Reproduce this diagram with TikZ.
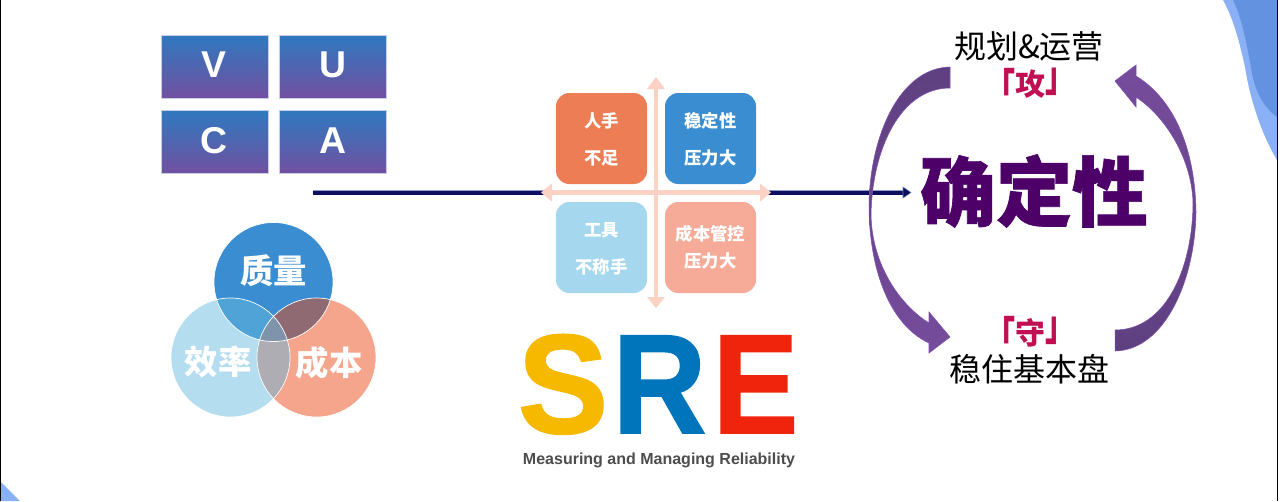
\documentclass[tikz,border=0pt]{standalone}
\usepackage{fontspec}
\setmainfont{Noto Sans CJK SC}
\newfontfamily\latf{Liberation Sans}
\newfontfamily\srefont[BoldFeatures={FakeBold=1.2}]{Liberation Sans}
\newfontfamily\heavyf[BoldFeatures={FakeBold=0.9}]{Noto Sans CJK SC}
\definecolor{txtpurple}{HTML}{4C0068}
\definecolor{txtred}{HTML}{C00F52}
\definecolor{cblue}{HTML}{3A8DD0}
\definecolor{clight}{HTML}{B5DDF0}
\definecolor{csalmon}{HTML}{F5A58C}
\definecolor{crosspink}{HTML}{FBD2C4}
\definecolor{vtop}{HTML}{2F79BF}
\definecolor{vbot}{HTML}{7150A0}
\definecolor{vedge}{HTML}{C8CCE8}
\definecolor{crdark}{HTML}{5E4080}
\definecolor{crlight}{HTML}{764C9C}
\definecolor{credge}{HTML}{7F4FB0}
\definecolor{bluelt}{HTML}{8AB0F5}
\definecolor{bluedk}{HTML}{6292E0}
\definecolor{ovtl}{HTML}{4FA3D6}
\definecolor{ovtr}{HTML}{906A73}
\definecolor{ovlr}{HTML}{ADADB3}
\definecolor{ovc}{HTML}{7F94AB}
\definecolor{lineedge}{HTML}{8C9CC8}
\definecolor{linecore}{HTML}{0E0E60}
\definecolor{headedge}{HTML}{5A82AA}
\definecolor{qorange}{HTML}{ED7D55}
\definecolor{qlight}{HTML}{A5D8EE}
\definecolor{qsalmon}{HTML}{F5AB98}
\definecolor{srey}{HTML}{F6B900}
\definecolor{sreb}{HTML}{0075BC}
\definecolor{srer}{HTML}{F0240C}
\definecolor{sreg}{HTML}{4D4D4D}
\newcommand{\lbr}{\smash{\raisebox{-0.32em}{\scalebox{1}[1.45]{「}}}}
\newcommand{\rbr}{\smash{\raisebox{0.12em}{\scalebox{1}[1.45]{」}}}}
\tikzset{
 vucabox/.style={minimum width=107*.75pt,minimum height=63*.75pt,inner sep=0,draw=vedge,line width=.25pt,top color=vtop,bottom color=vbot},
 vucatext/.style={text=white,inner sep=0,font=\latf\bfseries\fontsize{28}{28}\selectfont},
 quadbox/.style={rounded corners=10pt,minimum width=91*.75pt,minimum height=91*.75pt,inner sep=0},
 quadtext/.style={text=white,inner sep=0,font=\bfseries\fontsize{13}{13}\selectfont},
 venntext/.style={text=white,inner sep=0,font=\bfseries\fontsize{25}{25}\selectfont},
 sideblack/.style={text=black,inner sep=0,font=\fontsize{24}{24}\selectfont},
 sidered/.style={text=txtred,inner sep=0,font=\bfseries\fontsize{22.5}{22.5}\selectfont},
 sreletter/.style={inner sep=0,anchor=base,font=\srefont\bfseries\fontsize{106}{106}\selectfont},
 crescent/.style={draw=credge,line width=.4pt},
}
\begin{document}
\begin{tikzpicture}[x=.75pt,y=-.75pt]
\useasboundingbox (0,0) rectangle (1280,501);
\fill[white] (0,0) rectangle (1280,501);
% corner decorations
\fill[bluelt] (1223,0) .. controls (1233,18) and (1239,40) .. (1245,67) .. controls (1250,100) and (1262,135) .. (1277,160) -- (1277,0) -- cycle;
\fill[bluedk] (1233,0) .. controls (1242,18) and (1247,45) .. (1252,73) .. controls (1256,95) and (1265,108) .. (1277,117) -- (1277,0) -- cycle;
\fill[bluelt] (0,481) -- (20,501) -- (0,501) -- cycle;
\fill[black] (0,0) rectangle (1.2,501);
\fill[black] (1276.5,0) rectangle (1278,501);
% VUCA
\node[vucabox] (v) at (214.5,66.5) {};
\node[vucabox] (u) at (333,66.5) {};
\node[vucabox] (c) at (214.5,142) {};
\node[vucabox] (a) at (333,142) {};
\node[vucatext] (vt) at (214,65) {V};
\node[vucatext] (ut) at (333,65) {U};
\node[vucatext] (ct) at (214,141) {C};
\node[vucatext] (at) at (333,141) {A};
% Venn
\def\vtop{(273.5,282) circle [radius=59.5]}
\def\vleft{(230.5,357.5) circle [radius=59.5]}
\def\vright{(316.5,357.5) circle [radius=59.5]}
\fill[cblue] \vtop;
\fill[clight] \vleft;
\fill[csalmon] \vright;
\begin{scope}\clip \vtop; \fill[ovtl] \vleft; \end{scope}
\begin{scope}\clip \vtop; \fill[ovtr] \vright; \end{scope}
\begin{scope}\clip \vleft; \fill[ovlr] \vright; \end{scope}
\begin{scope}\clip \vtop; \clip \vleft; \fill[ovc] \vright; \end{scope}
\draw[white,line width=.5pt] \vtop \vleft \vright;
\node[venntext] (q) at (273.5,271) {质量};
\node[venntext] (e) at (218,362) {效率};
\node[venntext] (k) at (329,363) {成本};
% main line
\coordinate (ls) at (313,192.5);
\coordinate (le) at (905,192.5);
\draw[line width=4.4pt,draw=lineedge] (ls) -- (le);
\draw[line width=3pt,draw=linecore] (ls) -- (le);
\fill[fill=linecore,draw=headedge,line width=.4pt] (903,187) -- (911,192.5) -- (903,198) -- cycle;
% cross
\coordinate (ct0) at (656,89); \coordinate (cb0) at (656,297);
\coordinate (cl0) at (552,192.5); \coordinate (cr0) at (760,192.5);
\draw[crosspink,line width=3.6pt] (ct0) -- (cb0);
\draw[crosspink,line width=3.4pt] (cl0) -- (cr0);
\fill[crosspink] (647,89) -- (656,77) -- (665,89) -- cycle;
\fill[crosspink] (647,297) -- (656,308) -- (665,297) -- cycle;
\fill[crosspink] (552,183.5) -- (541,192.5) -- (552,201.5) -- cycle;
\fill[crosspink] (760,183.5) -- (771,192.5) -- (760,201.5) -- cycle;
% quadrants
\node[quadbox,fill=qorange] (b1) at (601.5,138.5) {};
\node[quadbox,fill=cblue] (b2) at (710.5,138.5) {};
\node[quadbox,fill=qlight] (b3) at (601.5,247.5) {};
\node[quadbox,fill=qsalmon] (b4) at (710.5,247.5) {};
\node[quadtext] (t1a) at (601.5,121) {人手};
\node[quadtext] (t1b) at (601.5,158) {不足};
\node[quadtext] (t2a) at (710.5,121) {稳定性};
\node[quadtext] (t2b) at (710.5,158) {压力大};
\node[quadtext] (t3a) at (601.5,230) {工具};
\node[quadtext] (t3b) at (601.5,267) {不称手};
\node[quadtext] (t4a) at (710.5,234) {成本管控};
\node[quadtext] (t4b) at (710.5,261) {压力大};
% SRE
\node[sreletter,text=srey] (s) at (563,433) {\scalebox{.96}[1]{S}};
\node[sreletter,text=sreb] (r) at (659.5,433) {\scalebox{.92}[1]{R}};
\node[sreletter,text=srer] (ee) at (755.5,433) {\scalebox{.91}[1]{E}};
\node[inner sep=0,text=sreg,font=\latf\bfseries\fontsize{12}{12}\selectfont] (sub) at (659,460) {Measuring and Managing Reliability};
% crescents
\path[crescent,top color=crdark,bottom color=crlight] (950,67) .. controls (900,68) and (870,135) .. (869,205) .. controls (869,270) and (890,325) .. (929,343) -- (929,353) -- (950,337) -- (929,312) -- (929,323) .. controls (900,305) and (872,265) .. (871,215) .. controls (872,150) and (900,88) .. (950,88) -- cycle;
\path[crescent,top color=crlight,bottom color=crdark] (1115,351) .. controls (1165,350) and (1195,280) .. (1196,212) .. controls (1195,150) and (1175,100) .. (1136,76) -- (1136,65) -- (1115,81) -- (1136,107) -- (1136,97) .. controls (1170,120) and (1193,165) .. (1193,205) .. controls (1192,270) and (1165,330) .. (1115,330) -- cycle;
% right text
\node[sideblack] (plan) at (1029,46) {规划\&运营};
\node[sidered] (gong) at (1030,84) {\lbr 攻\rbr};
\node[sidered] (shou) at (1030,332.5) {\lbr 守\rbr};
\node[sideblack] (base) at (1029.5,369) {稳住基本盘};
\node[text=txtpurple,inner sep=0,font=\heavyf\bfseries\fontsize{57}{57}\selectfont] (cert) at (1034,191) {确定性};
\end{tikzpicture}
\end{document}
